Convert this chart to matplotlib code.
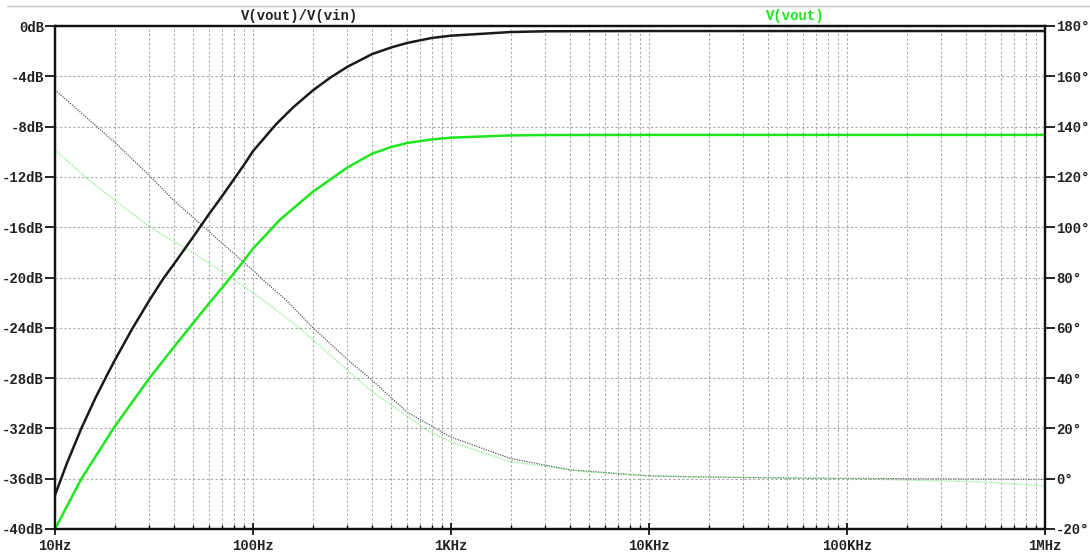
import matplotlib
matplotlib.use("Agg")
import matplotlib.pyplot as plt
from matplotlib.lines import Line2D
from matplotlib.ticker import NullLocator

# magnitude traces (Hz, dB)
freq_mag_ratio = [10, 11.5, 13.6, 16, 18.4, 20, 24.4, 30, 35.2, 40, 50, 60, 70, 80, 90,
                  100, 131, 160, 200, 246, 300, 400, 500, 600, 800, 1000, 2000, 3000,
                  10000, 100000, 1000000]
mag_ratio = [-37.3, -34.75, -31.98, -29.58, -27.7, -26.61, -24.15, -21.8, -20.1, -18.9,
             -16.75, -14.95, -13.5, -12.2, -11.05, -9.95, -7.8, -6.45, -5.14, -4.1, -3.24,
             -2.23, -1.70, -1.35, -0.95, -0.77, -0.48, -0.42, -0.4, -0.4, -0.4]

freq_mag_out = [10, 13.6, 20, 30, 40, 50, 60, 70, 80, 90, 100, 137, 200, 300, 400, 500,
                600, 800, 1000, 2000, 3000, 10000, 100000, 1000000]
mag_out = [-40.0, -36.0, -31.86, -28.0, -25.5, -23.6, -22.05, -20.8, -19.67, -18.66, -17.7,
           -15.4, -13.2, -11.25, -10.15, -9.62, -9.3, -9.02, -8.88, -8.7, -8.67, -8.66,
           -8.66, -8.66]

# phase traces (Hz, degrees)
freq_ph_ratio = [10, 20, 30, 39.6, 52, 89, 102, 110, 147, 202, 309, 390, 597, 989, 1986,
                 3990, 10100, 18000, 58000, 185000, 1000000]
ph_ratio = [154.6, 133.8, 120.5, 110.8, 102.6, 86.3, 82.3, 79.7, 71.0, 59.8, 46.5, 39.9,
            26.6, 16.7, 8.1, 3.5, 1.1, 0.7, 0.2, 0.0, -0.3]

freq_ph_out = [10, 14.5, 20, 30, 43.6, 50, 73.6, 102, 112.7, 173, 309, 390, 753, 989,
               1986, 4660, 10000, 18000, 100000, 273000, 489000, 1000000]
ph_out = [130.7, 119.4, 110.8, 100.2, 92.5, 89.8, 81.0, 73.5, 71.0, 59.8, 42.2, 35.3, 19.4,
          14.7, 6.8, 2.8, 1.1, 0.7, 0.0, -0.8, -1.3, -2.9]

x_ticks = [10, 100, 1000, 10000, 100000, 1000000]
x_labels = ["10Hz", "100Hz", "1KHz", "10KHz", "100KHz", "1MHz"]
db_ticks = list(range(-40, 1, 4))
deg_ticks = list(range(-20, 181, 20))

GREEN = "#1ee61e"
FONT = "Liberation Mono"

fig = plt.figure(figsize=(10.9, 5.56), dpi=100)
ax = fig.add_axes([55 / 1090, 1 - 529 / 556, 990 / 1090, 503 / 556])
ax2 = ax.twinx()

ax.set_xscale("log")
ax.set_xlim(10, 1e6)
ax.set_ylim(-40, 0)
ax2.set_ylim(-20, 180)

grid_kw = dict(color="#a8a8a8", linewidth=0.8, linestyle=(0, (2, 2)))
ax.grid(True, which="major", axis="both", **grid_kw)
ax.grid(True, which="minor", axis="x", **grid_kw)
ax.set_axisbelow(True)

# phase (thin dotted)
ax2.plot(freq_ph_ratio, ph_ratio, color="#555555", linewidth=0.9, linestyle=(0, (1, 1)))
ax2.plot(freq_ph_out, ph_out, color="#7ef07e", linewidth=0.9, linestyle=(0, (1, 1)))

# magnitude (solid)
ax.plot(freq_mag_ratio, mag_ratio, color="#1a1a1a", linewidth=1.8)
ax.plot(freq_mag_out, mag_out, color=GREEN, linewidth=1.8)
ax.set_zorder(ax2.get_zorder() + 1)
ax.patch.set_visible(False)

ax.set_xticks(x_ticks)
ax.set_xticklabels(x_labels)
ax.set_yticks(db_ticks)
ax.set_yticklabels([f"{v}dB" for v in db_ticks])
ax2.set_yticks(deg_ticks)
ax2.set_yticklabels([f"{v}\u00b0" for v in deg_ticks])

for t in ax.get_xticklabels() + ax.get_yticklabels() + ax2.get_yticklabels():
    t.set_fontfamily(FONT)
    t.set_fontweight("bold")
    t.set_fontsize(10)
    t.set_color("#222222")

ax.tick_params(axis="x", which="major", direction="inout", length=8, width=1.2, pad=3)
ax.tick_params(axis="x", which="minor", direction="in", length=3, width=1.0)
ax.tick_params(axis="y", which="major", direction="out", length=7, width=1.2, pad=1)
ax2.tick_params(axis="y", which="major", direction="out", length=7, width=1.2, pad=1)
ax.yaxis.set_minor_locator(NullLocator())
ax2.yaxis.set_minor_locator(NullLocator())

for a in (ax, ax2):
    for s in a.spines.values():
        s.set_linewidth(1.6)
        s.set_color("#111111")

# trace names above the plot
fig.text(300 / 1090, 1 - 16 / 556, "V(vout)/V(vin)", ha="center", va="center",
         fontfamily=FONT, fontweight="bold", fontsize=10, color="#222222")
fig.text(795 / 1090, 1 - 16 / 556, "V(vout)", ha="center", va="center",
         fontfamily=FONT, fontweight="bold", fontsize=10, color=GREEN)

# thin separator line at the very top
fig.add_artist(Line2D([7 / 1090, 1.0], [1 - 6 / 556, 1 - 6 / 556], color="#c8c8c8",
                      linewidth=1.0, transform=fig.transFigure))

fig.savefig("out.png", dpi=100)
